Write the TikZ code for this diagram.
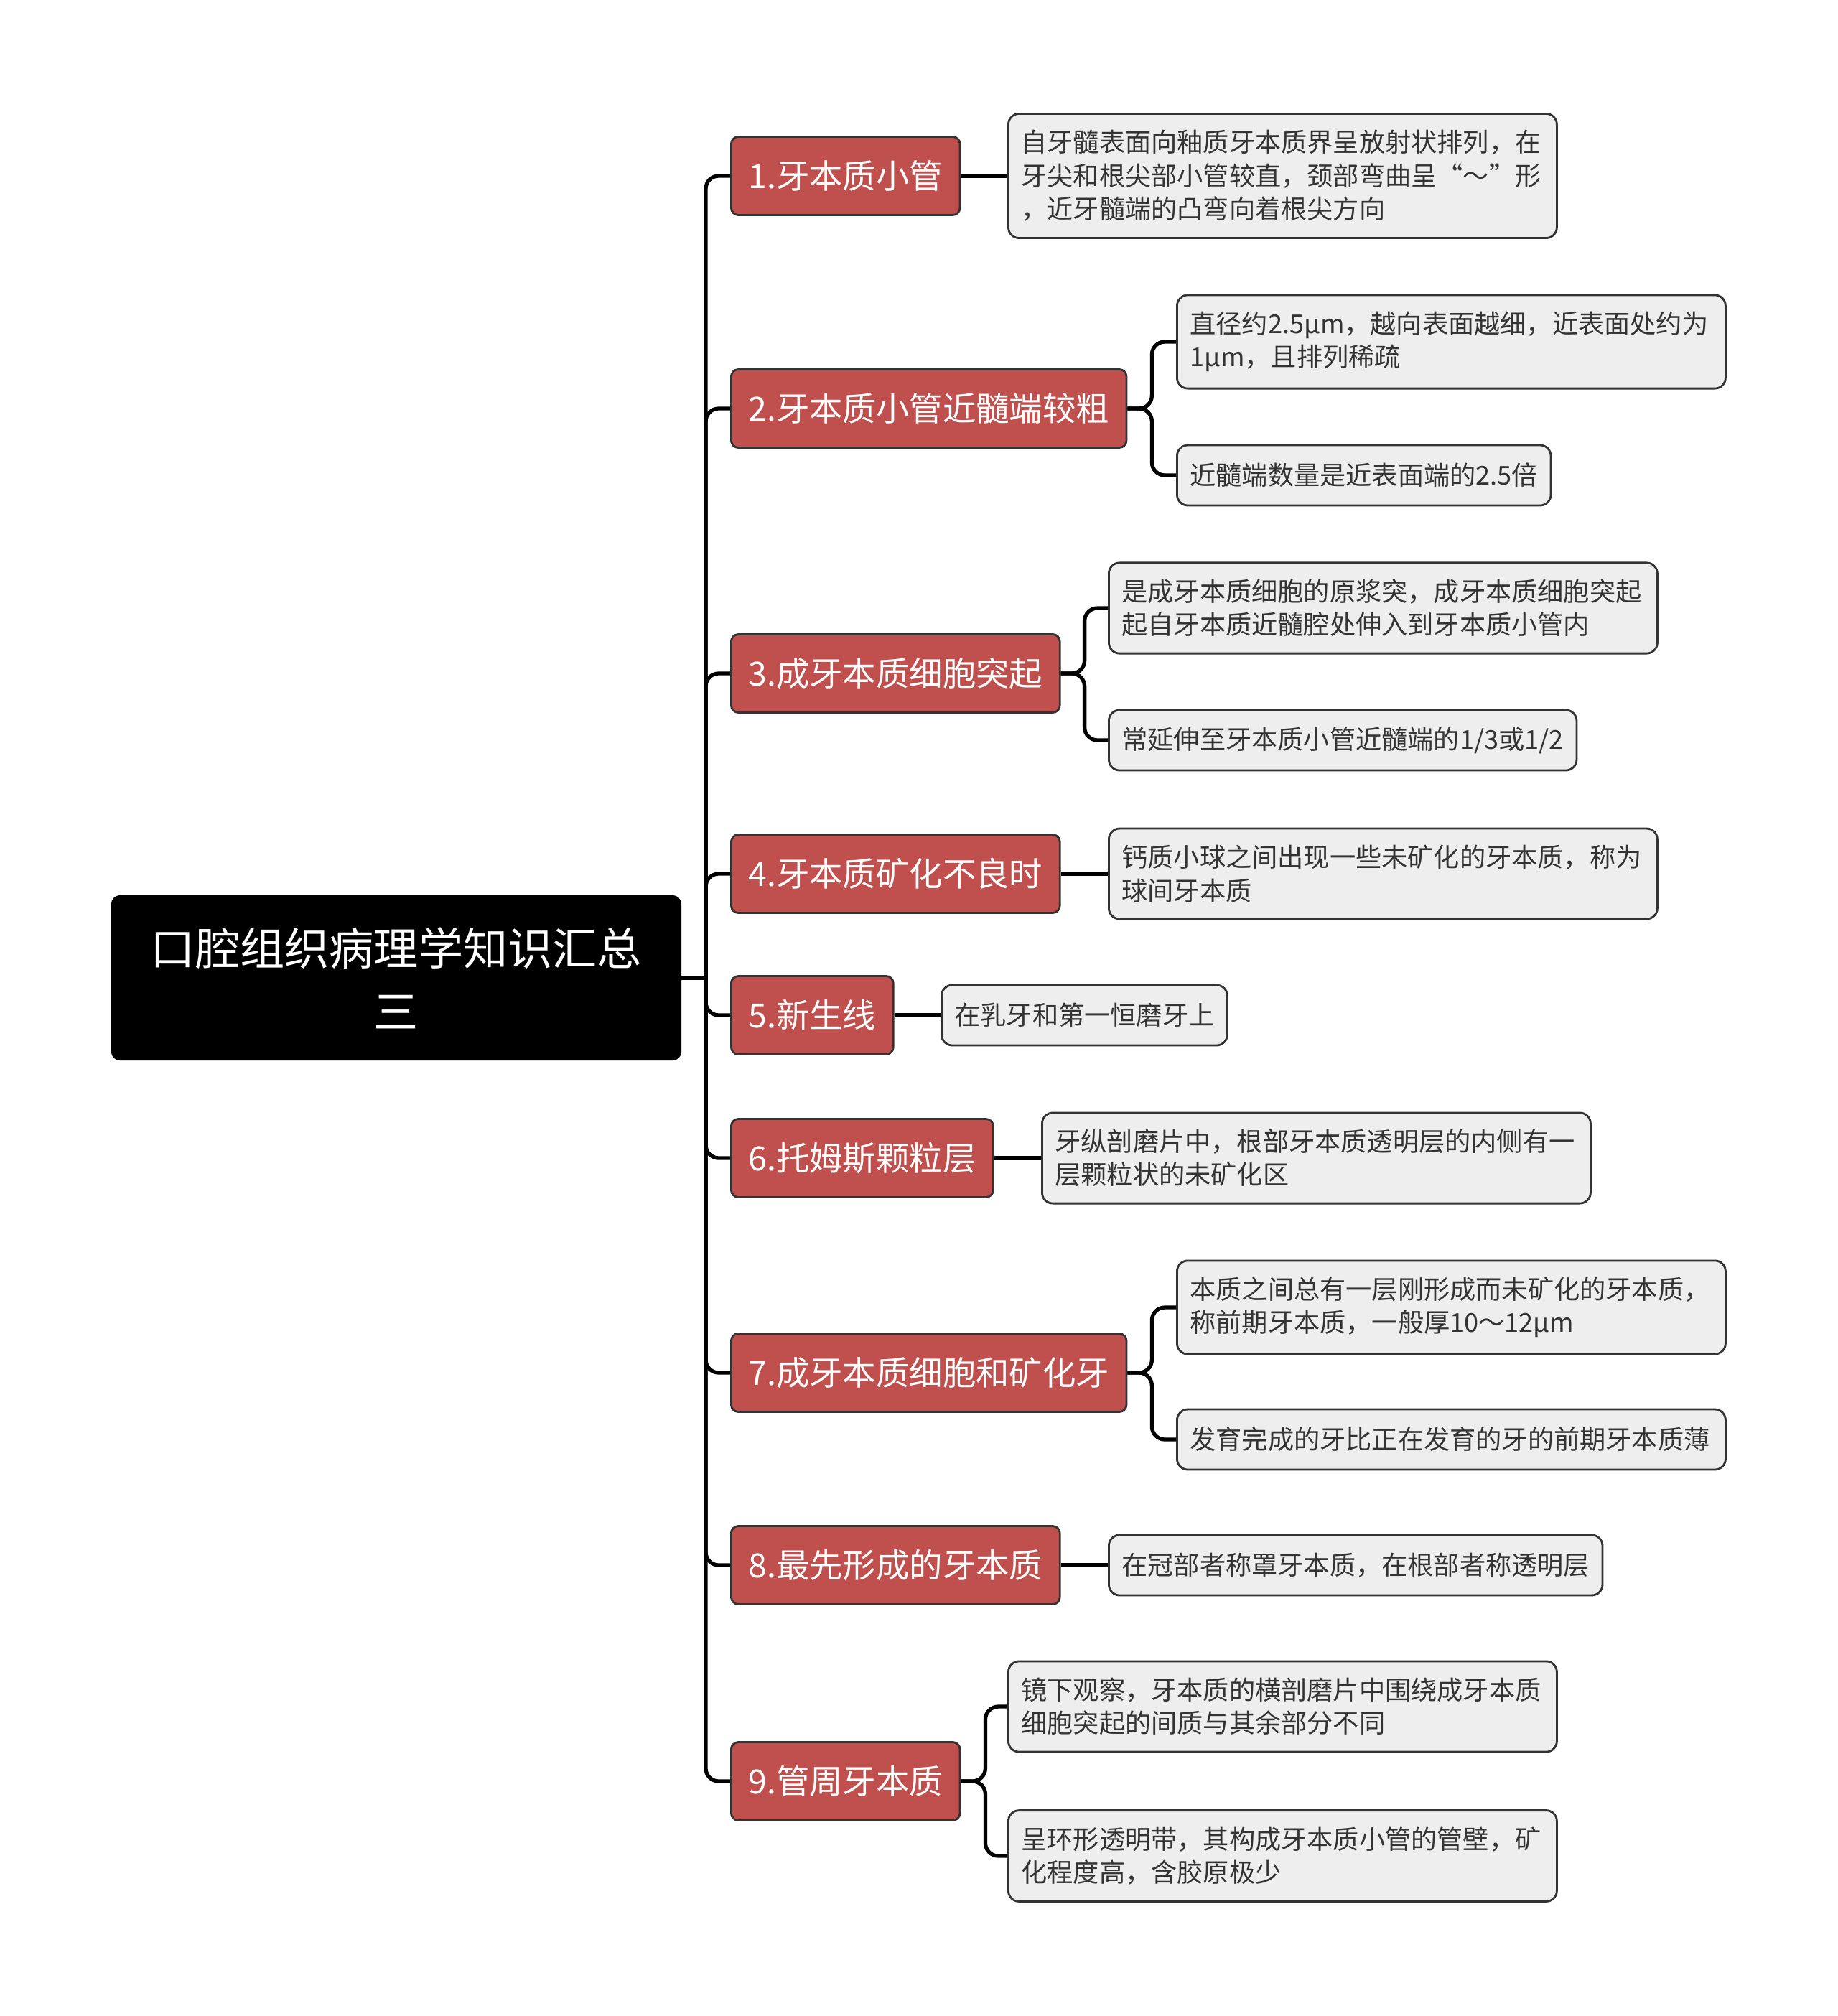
\documentclass[tikz,border=0pt]{standalone}
\usepackage{fontspec}
\setmainfont{Noto Sans CJK SC}
\usetikzlibrary{positioning}
\definecolor{branchred}{RGB}{192,80,77}
\definecolor{leafgray}{RGB}{238,238,238}
\definecolor{inkgray}{RGB}{51,51,51}
\begin{document}
\begin{tikzpicture}[
root/.style={fill=black,draw=black,rounded corners=0.12cm,text=white,font=\fontsize{17.7}{25}\selectfont,align=center,minimum width=7.93cm,minimum height=2.29cm},
topic/.style={fill=branchred,draw=inkgray,line width=0.8pt,rounded corners=0.1cm,text=white,font=\fontsize{13.2}{16}\selectfont,anchor=west,minimum height=1.09cm,inner xsep=0.24cm},
leaf/.style={fill=leafgray,draw=inkgray,line width=0.8pt,rounded corners=0.15cm,text=inkgray,font=\fontsize{10.3}{13.2}\selectfont,anchor=west,align=left,minimum height=0.84cm,inner xsep=0.18cm,inner ysep=0.23cm},
longleaf/.style={text width=7.28cm},
conn/.style={line width=1.5pt,rounded corners=0.18cm}
]
\useasboundingbox (0,0) rectangle (25.6,-28.08);
\node[root] (root) at (5.52,-13.62) {口腔组织病理学知识汇总\\三};
\node[topic] (t1) at (10.17,-2.45) {1.牙本质小管};
\node[topic] (t2) at (10.17,-5.69) {2.牙本质小管近髓端较粗};
\node[topic] (t3) at (10.17,-9.38) {3.成牙本质细胞突起};
\node[topic] (t4) at (10.17,-12.17) {4.牙本质矿化不良时};
\node[topic] (t5) at (10.17,-14.14) {5.新生线};
\node[topic] (t6) at (10.17,-16.13) {6.托姆斯颗粒层};
\node[topic] (t7) at (10.17,-19.12) {7.成牙本质细胞和矿化牙};
\node[topic] (t8) at (10.17,-21.80) {8.最先形成的牙本质};
\node[topic] (t9) at (10.17,-24.81) {9.管周牙本质};
\node[leaf,longleaf] (t1a) at (14.03,-2.45) {自牙髓表面向釉质牙本质界呈放射状排列，在\\牙尖和根尖部小管较直，颈部弯曲呈“～”形\\，近牙髓端的凸弯向着根尖方向};
\node[leaf,longleaf] (t2a) at (16.38,-4.76) {直径约2.5μm，越向表面越细，近表面处约为\\1μm，且排列稀疏};
\node[leaf] (t2b) at (16.38,-6.62) {近髓端数量是近表面端的2.5倍};
\node[leaf,longleaf] (t3a) at (15.43,-8.47) {是成牙本质细胞的原浆突，成牙本质细胞突起\\起自牙本质近髓腔处伸入到牙本质小管内};
\node[leaf] (t3b) at (15.43,-10.31) {常延伸至牙本质小管近髓端的1/3或1/2};
\node[leaf,longleaf] (t4a) at (15.43,-12.17) {钙质小球之间出现一些未矿化的牙本质，称为\\球间牙本质};
\node[leaf] (t5a) at (13.10,-14.14) {在乳牙和第一恒磨牙上};
\node[leaf,longleaf] (t6a) at (14.50,-16.13) {牙纵剖磨片中，根部牙本质透明层的内侧有一\\层颗粒状的未矿化区};
\node[leaf,longleaf] (t7a) at (16.38,-18.21) {本质之间总有一层刚形成而未矿化的牙本质，\\称前期牙本质，一般厚10～12μm};
\node[leaf,longleaf] (t7b) at (16.38,-20.05) {发育完成的牙比正在发育的牙的前期牙本质薄};
\node[leaf] (t8a) at (15.43,-21.80) {在冠部者称罩牙本质，在根部者称透明层};
\node[leaf,longleaf] (t9a) at (14.03,-23.77) {镜下观察，牙本质的横剖磨片中围绕成牙本质\\细胞突起的间质与其余部分不同};
\node[leaf,longleaf] (t9b) at (14.03,-25.85) {呈环形透明带，其构成牙本质小管的管壁，矿\\化程度高，含胶原极少};
\coordinate (hub) at (9.83,-13.62);
\draw[conn] (root.east) -- (hub);
\draw[conn] (hub) |- (t1.west);
\draw[conn] (hub) |- (t2.west);
\draw[conn] (hub) |- (t3.west);
\draw[conn] (hub) |- (t4.west);
\draw[conn] (hub) |- (t5.west);
\draw[conn] (hub) |- (t6.west);
\draw[conn] (hub) |- (t7.west);
\draw[conn] (hub) |- (t8.west);
\draw[conn] (hub) |- (t9.west);
\draw[conn] (t1.east) -- (t1a.west);
\draw[conn] (t2.east) -- ++(0.34,0) |- (t2a.west);
\draw[conn] (t2.east) -- ++(0.34,0) |- (t2b.west);
\draw[conn] (t3.east) -- ++(0.33,0) |- (t3a.west);
\draw[conn] (t3.east) -- ++(0.33,0) |- (t3b.west);
\draw[conn] (t4.east) -- (t4a.west);
\draw[conn] (t5.east) -- (t5a.west);
\draw[conn] (t6.east) -- (t6a.west);
\draw[conn] (t7.east) -- ++(0.34,0) |- (t7a.west);
\draw[conn] (t7.east) -- ++(0.34,0) |- (t7b.west);
\draw[conn] (t8.east) -- (t8a.west);
\draw[conn] (t9.east) -- ++(0.34,0) |- (t9a.west);
\draw[conn] (t9.east) -- ++(0.34,0) |- (t9b.west);
\end{tikzpicture}
\end{document}
